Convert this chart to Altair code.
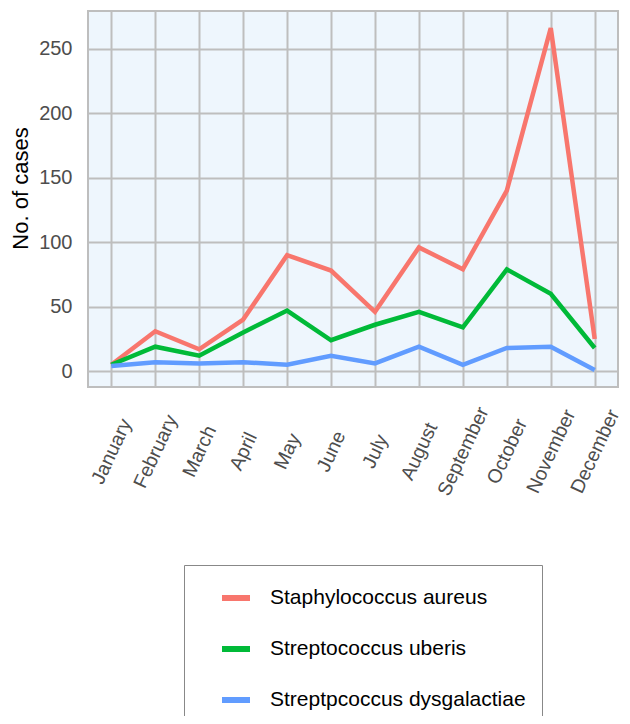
import altair as alt
import pandas as pd

months = ["January", "February", "March", "April", "May", "June", "July",
          "August", "September", "October", "November", "December"]
series_names = ["Staphylococcus aureus", "Streptococcus uberis", "Streptpcoccus dysgalactiae"]
staph_aureus = [5, 31, 17, 40, 90, 78, 46, 96, 79, 140, 266, 25]
strep_uberis = [5, 19, 12, 30, 47, 24, 36, 46, 34, 79, 60, 18]
strep_dysgalactiae = [4, 7, 6, 7, 5, 12, 6, 19, 5, 18, 19, 1]
y_ticks = [0, 50, 100, 150, 200, 250]
colors = ["#F8766D", "#00BA38", "#619CFF"]

rows = []
for name, vals in zip(series_names, [staph_aureus, strep_uberis, strep_dysgalactiae]):
    for m, v in zip(months, vals):
        rows.append({"Month": m, "Cases": v, "Series": name})
df = pd.DataFrame(rows)

FONT = "Liberation Sans"

chart = alt.Chart(df).mark_line(strokeWidth=4.5, strokeCap="butt", strokeJoin="miter").encode(
    x=alt.X("Month:N", sort=months,
            scale=alt.Scale(type="point", padding=0.53),
            axis=alt.Axis(title=None, labelAngle=295, labelAlign="center",
                          labelBaseline="middle", labelPadding=64, ticks=False,
                          domain=False, labelFontSize=19.5, labelColor="#4D4D4D",
                          labelFont=FONT, labelOverlap=False, labelFlush=False,
                          gridColor="#BEBEBE", gridWidth=2, grid=True)),
    y=alt.Y("Cases:Q",
            scale=alt.Scale(domain=[-12.25, 279.25], nice=False, zero=False),
            axis=alt.Axis(title="No. of cases", values=y_ticks, ticks=False, domain=False,
                          labelFontSize=20, labelColor="#4D4D4D", labelFont=FONT,
                          labelPadding=16, gridColor="#BEBEBE", gridWidth=2,
                          titleFont=FONT, titleFontSize=22, titleFontWeight="normal",
                          titleColor="#000000", titleAngle=270, titleAlign="center",
                          titleBaseline="alphabetic", titleX=-61, titleY=177)),
    color=alt.Color("Series:N", sort=series_names,
                    scale=alt.Scale(domain=series_names, range=colors),
                    legend=alt.Legend(title=None, orient="none", legendX=96, legendY=554,
                                      symbolType="stroke", symbolSize=784,
                                      symbolStrokeWidth=6, symbolOffset=19,
                                      labelOffset=17, labelFontSize=21, labelFont=FONT,
                                      labelColor="#000000", rowPadding=22, padding=16,
                                      strokeColor="#888888", labelLimit=400))
).properties(
    width=530, height=376,
    autosize=alt.AutoSizeParams(type="none"),
    padding={"left": 80, "top": 3, "right": 4, "bottom": 329},
).configure_view(
    fill="#EEF6FD", stroke="#BEBEBE", strokeWidth=2
).configure_legend(
    strokeWidth=1
)

chart.save("out.html", embed_options={"renderer": "svg", "actions": False})
